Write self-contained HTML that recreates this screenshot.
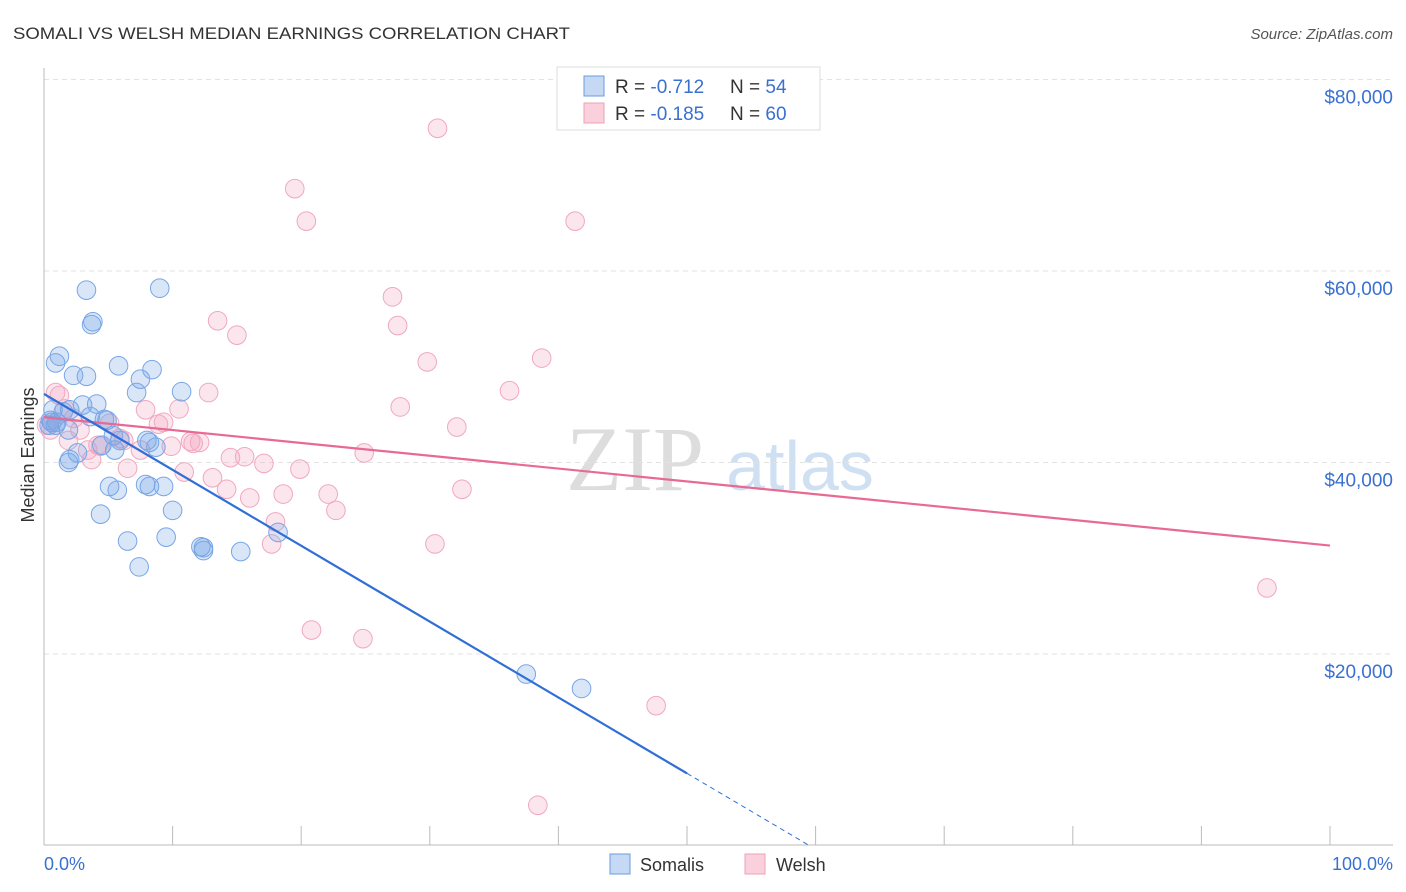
<!DOCTYPE html>
<html><head><meta charset="utf-8"><style>
body{margin:0;background:#fff;font-family:"Liberation Sans",sans-serif}
svg{display:block}
</style></head><body>
<svg width="1406" height="892" xmlns="http://www.w3.org/2000/svg" font-family="Liberation Sans, sans-serif">
<text x="13" y="39" font-size="17" fill="#333" textLength="557" lengthAdjust="spacingAndGlyphs">SOMALI VS WELSH MEDIAN EARNINGS CORRELATION CHART</text>
<text x="1393" y="39" font-size="15" fill="#555" font-style="italic" text-anchor="end">Source: ZipAtlas.com</text>
<text x="635" y="490" font-size="92" fill="#ddd" font-family="Liberation Serif, serif" text-anchor="middle">ZIP</text>
<text x="800" y="490" font-size="70" fill="#cfe0f3" text-anchor="middle">atlas</text>
<g id="grid"></g>
<g id="axes"></g>
<g id="pts"></g>
<g id="lines"></g>
<text transform="translate(34,455) rotate(-90)" font-size="18" fill="#333" text-anchor="middle">Median Earnings</text>
<text x="44" y="870" font-size="18" fill="#3a70d0">0.0%</text>
<text x="1393" y="870" font-size="18" fill="#3a70d0" text-anchor="end">100.0%</text>
<g>
<rect x="557" y="67" width="263" height="63" fill="#fff" stroke="#ddd"/>
<rect x="584" y="76" width="20" height="20" fill="#c5d9f5" stroke="#6a9be0"/>
<rect x="584" y="103" width="20" height="20" fill="#fbd0dd" stroke="#eea0b8"/>
<text x="615" y="93" font-size="19" fill="#333">R = <tspan fill="#3a70d0">-0.712</tspan></text>
<text x="730" y="93" font-size="19" fill="#333">N = <tspan fill="#3a70d0">54</tspan></text>
<text x="615" y="120" font-size="19" fill="#333">R = <tspan fill="#3a70d0">-0.185</tspan></text>
<text x="730" y="120" font-size="19" fill="#333">N = <tspan fill="#3a70d0">60</tspan></text>
</g>
<g>
<rect x="610" y="854" width="20" height="20" fill="#c5d9f5" stroke="#6a9be0"/>
<text x="640" y="871" font-size="18" fill="#333">Somalis</text>
<rect x="745" y="854" width="20" height="20" fill="#fbd0dd" stroke="#eea0b8"/>
<text x="776" y="871" font-size="18" fill="#333">Welsh</text>
</g>
</svg>
<script>
const yTicks=[20000,40000,60000,80000];
const yTickLabels=["$20,000","$40,000","$60,000","$80,000"];
const somaliX=[3.3,9.0,3.8,3.7,1.2,0.9,5.8,8.4,3.3,2.3,7.5,10.7,7.2,0.7,3.0,4.1,2.0,1.5,0.6,0.9,1.9,3.6,4.9,5.9,5.4,4.5,8.2,8.7,5.5,2.6,2.0,1.9,5.1,5.7,7.9,8.2,9.3,10.0,4.4,6.5,9.5,12.2,12.4,12.4,15.3,7.4,18.2,37.5,41.8,1.0,0.4,4.7,8.0,0.5];
const somaliY=[58.0,58.2,54.7,54.4,51.1,50.4,50.1,49.7,49.0,49.1,48.7,47.4,47.3,45.5,46.0,46.1,45.5,45.3,44.2,43.9,43.4,44.8,44.4,42.3,42.8,41.8,42.1,41.6,41.3,41.0,40.3,40.0,37.5,37.1,37.7,37.5,37.5,35.0,34.6,31.8,32.2,31.2,30.8,31.1,30.7,29.1,32.7,17.9,16.4,44.2,43.9,44.5,42.3,44.4];
const welshX=[30.6,19.5,20.4,41.3,27.1,13.5,15.0,27.5,29.8,38.7,36.2,12.8,0.9,1.2,27.7,32.1,7.9,10.5,8.9,9.3,5.1,2.8,11.4,12.1,11.6,6.2,9.9,4.4,14.5,15.6,24.9,17.1,3.7,10.9,6.5,19.9,13.1,14.2,16.0,18.6,22.1,32.5,22.7,18.0,17.7,30.4,20.8,24.8,95.1,47.6,38.4,0.5,1.6,0.2,2.3,4.2,5.9,7.5,3.4,1.9];
const welshY=[74.9,68.6,65.2,65.2,57.3,54.8,53.3,54.3,50.5,50.9,47.5,47.3,47.3,47.0,45.8,43.7,45.5,45.6,44.0,44.2,44.1,43.4,42.2,42.1,42.0,42.3,41.7,41.7,40.5,40.6,41.0,39.9,40.3,39.0,39.4,39.3,38.4,37.2,36.3,36.7,36.7,37.2,35.0,33.8,31.5,31.5,22.5,21.6,26.9,14.6,4.2,43.4,45.6,43.9,44.6,41.8,42.5,41.3,41.3,42.3];
const NS="http://www.w3.org/2000/svg";
const X0=44,X1=1330,Y0=845.5,PX_PER_K=9.575;
function sx(p){return X0+(X1-X0)*p/100;}
function sy(k){return Y0-k*PX_PER_K;}
function mk(t,a,parent){const e=document.createElementNS(NS,t);for(const k in a)e.setAttribute(k,a[k]);document.getElementById(parent).appendChild(e);return e;}
yTicks.forEach((v,i)=>{
 const l=mk('line',{x1:44,x2:1393,y1:sy(v/1000),y2:sy(v/1000),stroke:'#e2e2e2','stroke-dasharray':'5,4'},'grid');
 
 
 const t=mk('text',{x:1393,y:sy(v/1000)+24,'font-size':19,fill:'#3a70d0','text-anchor':'end'},'grid');
 t.textContent=yTickLabels[i];
 
 
});
let a=mk('line',{x1:44,x2:44,y1:68,y2:845,stroke:'#bbb'},'axes');


a=mk('line',{x1:44,x2:1393,y1:845,y2:845,stroke:'#bbb'},'axes');


for(let i=1;i<=10;i++){const t=mk('line',{x1:sx(i*10),x2:sx(i*10),y1:826,y2:845,stroke:'#bbb'},'axes');
 
 }
function dots(xs,ys,fill,stroke,name){xs.forEach((x,i)=>{const c=mk('circle',{cx:sx(x),cy:sy(ys[i]),r:9.3,fill:fill,stroke:stroke,'stroke-width':1},'pts');
 
 });}
dots(welshX,welshY,'rgba(245,165,195,0.28)','#f0a8c0','welsh-point');
dots(somaliX,somaliY,'rgba(120,165,230,0.28)','#78a6e6','somali-point');
function reg(xs,ys){const n=xs.length;let mx=0,my=0;for(let i=0;i<n;i++){mx+=xs[i];my+=ys[i];}mx/=n;my/=n;let sxy=0,sxx=0;for(let i=0;i<n;i++){sxy+=(xs[i]-mx)*(ys[i]-my);sxx+=(xs[i]-mx)**2;}const b=sxy/sxx;return[my-b*mx,b];}
const [ba,bb]=reg(somaliX,somaliY);
const [wa,wb]=reg(welshX,welshY);
let l=mk('line',{x1:sx(0),y1:sy(wa),x2:sx(100),y2:sy(wa+wb*100),stroke:'#e86a93','stroke-width':2.2},'lines');


l=mk('line',{x1:sx(0),y1:sy(ba),x2:sx(50),y2:sy(ba+bb*50),stroke:'#2f6fd6','stroke-width':2.2},'lines');


const xz=Math.min(100,-ba/bb);
l=mk('line',{x1:sx(50),y1:sy(ba+bb*50),x2:sx(xz),y2:sy(ba+bb*xz),stroke:'#2f6fd6','stroke-width':1,'stroke-dasharray':'5,4'},'lines');


</script>
</body></html>
